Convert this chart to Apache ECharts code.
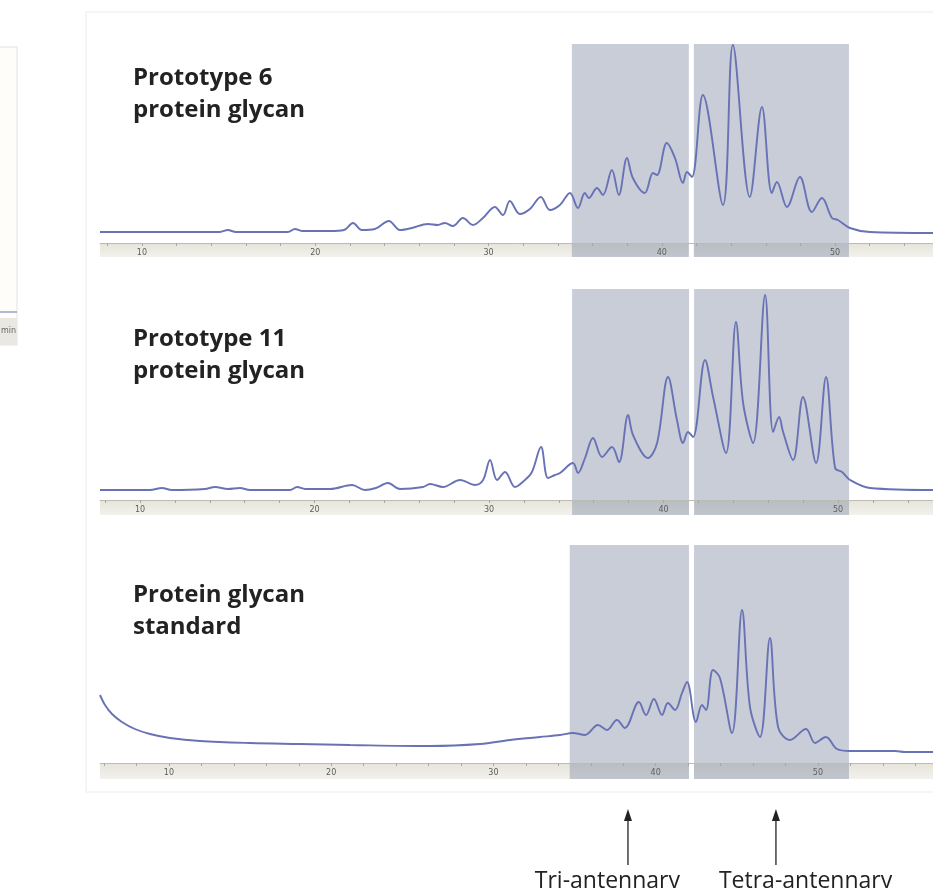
<!DOCTYPE html>
<html><head><meta charset="utf-8">
<script src="https://cdn.jsdelivr.net/npm/echarts@6.0.0/dist/echarts.min.js"></script>
<style>html,body{margin:0;padding:0;background:#fff}#c{width:933px;height:888px}</style>
</head><body><div id="c"></div>
<script>
// ---------- DATA (retention time in min, detector signal in arbitrary units) ----------
const p6Time = [7.58,14.50,14.96,15.42,18.42,18.83,19.23,20.85,21.66,22.18,22.69,23.44,24.25,24.89,25.58,26.50,27.08,27.48,27.95,28.52,29.10,29.68,30.37,30.83,31.23,31.81,32.39,33.02,33.54,34.12,34.70,35.16,35.56,35.79,36.26,36.60,37.12,37.52,37.99,38.33,39.02,39.49,39.72,40.29,40.76,41.22,41.45,41.74,42.37,43.53,44.10,45.08,45.78,46.35,46.64,47.22,47.97,48.66,49.24,49.82,50.16,50.85,52.01,55.65];
const p6Signal = [0,0,2,0,0,3,1,1,2,9,2,3,11,2,4,8,7,9,6,14,7,14,25,17,31,18,23,35,22,27,39,24,39,34,44,37,62,37,74,54,39,59,57,89,74,49,60,55,137,27,187,35,125,39,50,25,55,20,34,14,12,4,0,-1];

const p11Time = [7.71,10.57,11.26,11.83,13.72,14.30,15.04,15.73,16.30,18.60,19.00,19.46,20.89,22.15,22.89,23.52,24.21,24.90,26.22,26.62,27.36,28.34,29.20,29.66,30.06,30.46,30.92,31.49,32.06,32.46,32.98,33.38,33.78,34.07,34.81,35.10,35.50,35.96,36.48,37.05,37.45,37.97,38.25,39.11,39.63,40.26,40.77,41.12,41.40,41.69,42.38,42.84,43.58,44.15,44.56,45.13,45.82,46.28,46.62,46.85,47.42,47.99,48.74,49.31,49.83,50.23,50.69,51.83,55.44];
const p11Signal = [0,0,2,0,1,3,1,2,0,0,3,1,1,5,0,2,7,1,3,6,3,10,5,10,30,10,18,3,10,18,43,12,15,17,27,17,32,52,33,43,28,75,55,32,47,113,70,47,58,53,130,93,37,168,87,47,195,58,73,58,30,93,27,113,22,18,10,2,0];

const stdTime = [5.75,6.06,6.49,7.10,7.90,8.83,10.06,11.91,14.99,18.07,21.16,26.09,29.17,31.02,32.87,34.10,34.90,35.64,36.44,37.00,37.61,38.10,38.96,39.40,39.89,40.39,40.75,41.19,41.62,41.93,42.48,42.85,43.10,43.53,43.96,44.70,45.32,45.81,46.43,47.04,47.54,48.27,49.26,49.82,50.49,51.17,51.97,54.75,55.36,57.09];
const stdSignal = [56,46,37,29,22,17,13,10,8,7,6,5,7,11,14,16,18,16,26,21,31,23,49,36,52,36,48,41,58,69,29,46,41,81,73,18,141,44,14,113,24,11,22,8,14,2,0,0,-1,-1];

// shaded fraction windows (tri-antennary, tetra-antennary), per trace, in min
const p6Windows  = [[34.81, 41.56], [41.85, 50.80]];
const p11Windows = [[34.76, 41.46], [41.75, 50.63]];
const stdWindows = [[34.70, 42.05], [42.36, 51.91]];

const tickValues = [10, 20, 30, 40, 50];
const minorTickValues = [6,8,10,12,14,16,18,20,22,24,26,28,30,32,34,36,38,40,42,44,46,48,50,52,54,56];

const panelTitles = ['Prototype 6\nprotein glycan', 'Prototype 11\nprotein glycan', 'Protein glycan\nstandard'];
const annotationLabels = ['Tri-antennary', 'Tetra-antennary'];
const annotationTimes = [38.29, 47.41]; // on the standard trace's time axis

// ---------- LAYOUT ----------
const panels = [
  {time: p6Time,  sig: p6Signal,  win: p6Windows,  top: 44,  height: 213, xMin: 7.58, xMax: 55.65, yMin: -25, yMax: 188, barTop: -11, titleTop: 62},
  {time: p11Time, sig: p11Signal, win: p11Windows, top: 289, height: 226, xMin: 7.71, xMax: 55.44, yMin: -25, yMax: 201, barTop: -10, titleTop: 323},
  {time: stdTime, sig: stdSignal, win: stdWindows, top: 545, height: 234, xMin: 5.75, xMax: 57.09, yMin: -28, yMax: 206, barTop: -12, titleTop: 579}
];
const labelLayout = [{dx: 52, align: 'right'}, {dx: -57, align: 'left'}];

const chart = echarts.init(document.getElementById('c'), null, {renderer: 'canvas'});
const grid = [], xAxis = [], yAxis = [], series = [], title = [];

panels.forEach((p, i) => {
  grid.push({left: 100, right: 0, top: p.top, height: p.height, containLabel: false});
  const barPx = (p.barTop - p.yMin) / (p.yMax - p.yMin) * p.height;
  xAxis.push({
    type: 'value', gridIndex: i, min: p.xMin, max: p.xMax, offset: -barPx, z: 10,
    axisLine: {show: true, onZero: false, lineStyle: {color: '#bdbcb4', width: 1}},
    axisTick: {show: true, customValues: minorTickValues, length: 3, lineStyle: {color: '#a8a8a0'}},
    axisLabel: {show: true, customValues: tickValues, fontSize: 8, color: '#5e5e5a', margin: 6, fontFamily: 'DejaVu Sans'},
    splitLine: {show: false}
  });
  yAxis.push({type: 'value', gridIndex: i, min: p.yMin, max: p.yMax, show: false});
  const d = p.time.map((t, k) => [t, p.sig[k]]);
  // axis strip background
  series.push({
    type: 'line', xAxisIndex: i, yAxisIndex: i, data: d, z: 1, silent: true,
    symbol: 'none', lineStyle: {opacity: 0},
    markArea: {silent: true, data: [[
      {coord: [p.xMin, p.yMin], itemStyle: {color: new echarts.graphic.LinearGradient(0,0,0,1,[{offset:0,color:'#e6e4da'},{offset:1,color:'#f2f1ec'}])}},
      {coord: [p.xMax, p.barTop]}
    ]]}
  });
  // gap + shaded windows
  series.push({
    type: 'line', xAxisIndex: i, yAxisIndex: i, data: d, z: 2, silent: true,
    symbol: 'none', lineStyle: {opacity: 0},
    markArea: {silent: true, data: [
      [{xAxis: p.win[0][1], itemStyle: {color: '#ffffff'}}, {xAxis: p.win[1][0]}],
      [{xAxis: p.win[0][0], itemStyle: {color: 'rgba(128,140,164,0.43)'}}, {xAxis: p.win[0][1]}],
      [{xAxis: p.win[1][0], itemStyle: {color: 'rgba(128,140,164,0.43)'}}, {xAxis: p.win[1][1]}]
    ]}
  });
  // trace
  series.push({
    type: 'line', xAxisIndex: i, yAxisIndex: i, data: d, z: 3,
    symbol: 'none', smooth: 0.35, clip: true,
    lineStyle: {color: '#6872b4', width: 1.9}
  });
  title.push({
    text: panelTitles[i], left: 133, top: p.titleTop, padding: 0,
    textStyle: {fontFamily: 'Open Sans', fontWeight: 'bold', fontSize: 24, color: '#222', lineHeight: 32}
  });
});

chart.setOption({
  animation: false, backgroundColor: '#ffffff',
  title, grid, xAxis, yAxis, series
});

// decorations + annotations (arrows below the standard trace pointing to the two windows)
const graphic = [
  {type: 'rect', z: -10, shape: {x: 86, y: 12, width: 860, height: 780}, style: {fill: 'rgba(0,0,0,0)', stroke: '#e8eef4', lineWidth: 1}},
  {type: 'rect', z: -10, shape: {x: -10, y: 47, width: 27, height: 298}, style: {fill: '#fefdf9', stroke: '#e2e2e2', lineWidth: 1}},
  {type: 'line', z: -9, shape: {x1: 0, y1: 312, x2: 17, y2: 312}, style: {stroke: '#9aa0cc', lineWidth: 1.5}},
  {type: 'rect', z: -9, shape: {x: 0, y: 318, width: 17, height: 27}, style: {fill: '#e9e8e2'}},
  {type: 'text', z: -8, x: 1, y: 327, style: {text: 'min', fontSize: 8, fill: '#666', fontFamily: 'DejaVu Sans'}},
  {type: 'rect', z: -9, shape: {x: 100, y: 513, width: 833, height: 2}, style: {fill: '#cfe2f0'}}
];
annotationTimes.forEach((t, k) => {
  const x = chart.convertToPixel({xAxisIndex: 2}, t);
  graphic.push({type: 'line', shape: {x1: x, y1: 818, x2: x, y2: 865}, style: {stroke: '#222', lineWidth: 1.3}});
  graphic.push({type: 'polygon', shape: {points: [[x, 809], [x - 4, 821], [x + 4, 821]]}, style: {fill: '#222'}});
  graphic.push({type: 'text', x: x + labelLayout[k].dx, y: 870, style: {text: annotationLabels[k], fontFamily: 'Open Sans', fontSize: 23, fill: '#222', align: labelLayout[k].align, verticalAlign: 'top'}});
});
chart.setOption({graphic: graphic});
</script>
</body></html>
